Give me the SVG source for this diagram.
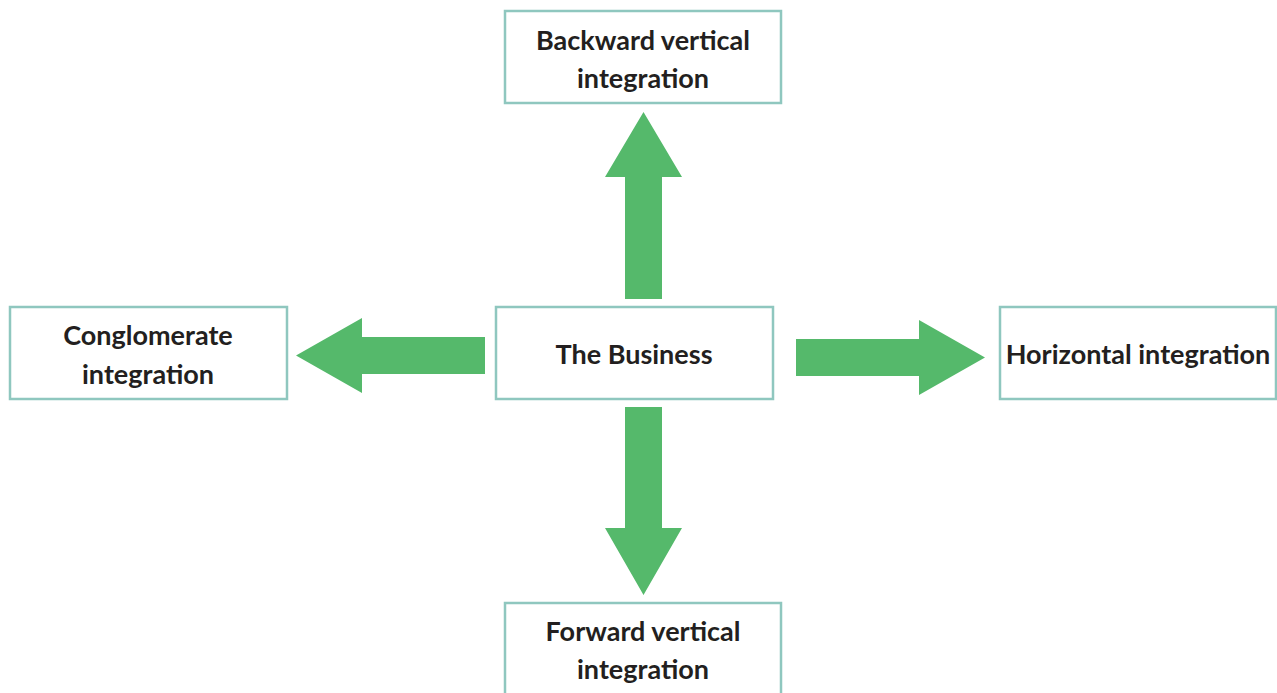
<svg xmlns="http://www.w3.org/2000/svg" width="1277" height="693" viewBox="0 0 1277 693">
<style>
.box{fill:#fff;stroke:#8fc7bf;stroke-width:2.5}
.t{font-family:Lato,"Open Sans","Liberation Sans",sans-serif;font-weight:bold;font-size:27px;fill:#231f20;text-anchor:middle}
.arr{fill:#55b96b}
</style>
<rect width="1277" height="693" fill="#fff"/>
<g id="connectors">
<polygon class="arr" points="625,299 625,177 605,177 643.5,112 682,177 662,177 662,299"/>
<polygon class="arr" points="625,407 625,528 605,528 643.5,595 682,528 662,528 662,407"/>
<polygon class="arr" points="485,337 362,337 362,318 296,355.5 362,393 362,374 485,374"/>
<polygon class="arr" points="796,339 919,339 919,320 985,357.5 919,395 919,376 796,376"/>
</g>
<g id="backward">
<rect class="box" x="505" y="11" width="276" height="92"/>
<text class="t" x="643" y="50">Backward vertical</text>
<text class="t" x="643" y="88">integration</text>
</g>
<g id="business">
<rect class="box" x="496" y="307" width="277" height="92"/>
<text class="t" x="634" y="364">The Business</text>
</g>
<g id="conglomerate">
<rect class="box" x="10" y="307" width="277" height="92"/>
<text class="t" x="148" y="345">Conglomerate</text>
<text class="t" x="148" y="384">integration</text>
</g>
<g id="horizontal">
<rect class="box" x="1000" y="307" width="276" height="92"/>
<text class="t" x="1138" y="364">Horizontal integration</text>
</g>
<g id="forward">
<rect class="box" x="505" y="603" width="276" height="100"/>
<text class="t" x="643" y="641">Forward vertical</text>
<text class="t" x="643" y="679">integration</text>
</g>
</svg>
